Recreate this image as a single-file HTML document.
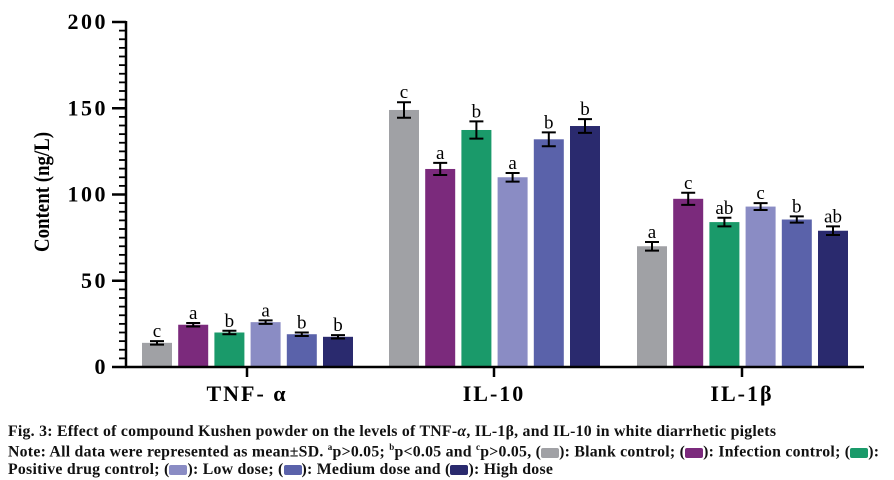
<!DOCTYPE html>
<html><head><meta charset="utf-8"><style>
html,body{margin:0;padding:0;background:#fff;width:894px;height:480px;overflow:hidden}
.cap{position:absolute;left:8px;font-family:"Liberation Serif",serif;font-weight:bold;font-size:15.8px;color:#111;white-space:nowrap;letter-spacing:0.25px}
.sw{display:inline-block;width:18px;height:10px;border-radius:2px;vertical-align:middle}
</style></head><body>
<svg id="s" width="894" height="410" style="position:absolute;left:0;top:0" xmlns="http://www.w3.org/2000/svg"></svg>
<div class="cap" style="top:423px">Fig. 3: Effect of compound Kushen powder on the levels of TNF-<i>α</i>, IL-1β, and IL-10 in white diarrhetic piglets</div>
<div class="cap" style="top:442px">Note: All data were represented as mean±SD. <sup style="font-size:9px">a</sup>p&gt;0.05; <sup style="font-size:9px">b</sup>p&lt;0.05 and <sup style="font-size:9px">c</sup>p&gt;0.05, (<span class="sw" style="background:#a0a1a5"></span>): Blank control; (<span class="sw" style="background:#7b2a7c"></span>): Infection control; (<span class="sw" style="background:#1a9a6a"></span>):</div>
<div class="cap" style="top:461px">Positive drug control; (<span class="sw" style="background:#8a8cc4"></span>): Low dose; (<span class="sw" style="background:#5a62aa"></span>): Medium dose and (<span class="sw" style="background:#2a2a6e"></span>): High dose</div>
<script>
var s=document.getElementById('s'),h='';
function Y(v){return 367-v*1.725}
var cols=['#a0a1a5','#7b2a7c','#1a9a6a','#8a8cc4','#5a62aa','#2a2a6e'];
var data=[
 [[14,1,'c'],[24.5,1,'a'],[20,1,'b'],[26,1,'a'],[19,1,'b'],[17.5,1,'b']],
 [[149,4.5,'c'],[114.8,3.5,'a'],[137.4,5,'b'],[110,2.5,'a'],[132,4,'b'],[139.7,4,'b']],
 [[70,2.5,'a'],[97.5,3.5,'c'],[84,2.5,'ab'],[93,2,'c'],[85.5,1.8,'b'],[79,2.5,'ab']]];
var starts=[142,389,637],labels=['TNF- α','IL-10','IL-1β'];
data.forEach(function(g,gi){g.forEach(function(d,i){
 var x=starts[gi]+i*36.2,w=30,yt=Y(d[0]);
 h+='<rect x="'+x+'" y="'+yt+'" width="'+w+'" height="'+(367-yt)+'" fill="'+cols[i]+'"/>';
 var cx=x+w/2,e=d[1]*1.725;
 h+='<path d="M'+cx+' '+(yt-e)+'V'+(yt+e)+'M'+(cx-7)+' '+(yt-e)+'H'+(cx+7)+'M'+(cx-7)+' '+(yt+e)+'H'+(cx+7)+'" stroke="#000" stroke-width="2" fill="none"/>';
 h+='<text x="'+cx+'" y="'+(yt-e-4)+'" text-anchor="middle" font-family="Liberation Serif,serif" font-size="19">'+d[2]+'</text>';
});
 var tx=starts[gi]+105;
 h+='<line x1="'+tx+'" y1="367" x2="'+tx+'" y2="377" stroke="#000" stroke-width="2.5"/>';
 h+='<text x="'+tx+'" y="401" text-anchor="middle" font-family="Liberation Serif,serif" font-weight="bold" font-size="22" letter-spacing="2">'+labels[gi]+'</text>';
});
h+='<path d="M126 21V368M125 367H864" stroke="#000" stroke-width="2.5" fill="none"/>';
for(var v=0;v<=200;v+=5){var y=Y(v),maj=v%50==0;h+='<line x1="'+(maj?112:119)+'" y1="'+y+'" x2="126" y2="'+y+'" stroke="#000" stroke-width="'+(maj?2.5:1.8)+'"/>';
 if(maj)h+='<text x="108" y="'+(y+7)+'" text-anchor="end" font-family="Liberation Serif,serif" font-weight="bold" font-size="22" letter-spacing="2.5">'+v+'</text>';}
h+='<text transform="translate(49,192) rotate(-90) scale(0.9,1.05)" text-anchor="middle" font-family="Liberation Serif,serif" font-weight="bold" font-size="21">Content (ng/L)</text>';
s.innerHTML=h;
</script>
</body></html>
